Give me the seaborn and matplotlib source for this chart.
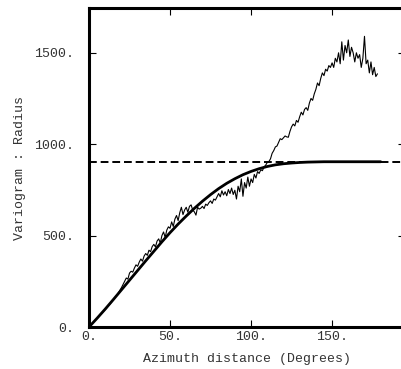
#!/usr/bin/env python3
import numpy as np
import pandas as pd
import matplotlib
matplotlib.use("Agg")
import matplotlib.pyplot as plt
import seaborn as sns

# experimental variogram, one value per degree (0..178)
exp_values = [
    0, 8, 18, 28, 38, 47, 56, 66, 76, 86,
    95, 105, 116, 126, 137, 148, 160, 172, 185, 200,
    215, 232, 250, 268, 262, 295, 305, 300, 322, 340,
    332, 355, 372, 360, 388, 402, 392, 420, 412, 440,
    452, 438, 470, 482, 460, 500, 520, 490, 530, 548,
    540, 575, 550, 590, 610, 582, 625, 655, 615, 640,
    655, 628, 660, 668, 640, 630, 612, 655, 645, 650,
    660, 648, 672, 665, 680, 690, 676, 700, 694, 712,
    730, 712, 745, 722, 740, 718, 752, 730, 760, 725,
    748, 700, 770, 740, 810, 715, 790, 760, 820, 770,
    810, 790, 835, 815, 850, 840, 860, 855, 875, 885,
    900, 905, 920, 950, 965, 985, 990, 1010, 1030, 1025,
    1035, 1045, 1040, 1038, 1070, 1095, 1110, 1100, 1130, 1120,
    1150, 1175, 1160, 1190, 1200, 1185, 1225, 1250, 1240, 1275,
    1300, 1335, 1320, 1360, 1390, 1375, 1410, 1400, 1430, 1420,
    1445, 1420, 1470, 1450, 1500, 1440, 1560, 1460, 1540, 1500,
    1570, 1480, 1530, 1500, 1450, 1500, 1470, 1490, 1420, 1470,
    1590, 1440, 1460, 1390, 1450, 1380, 1420, 1370, 1385,
]
exp_lags = list(range(len(exp_values)))

# fitted model, read every 5 degrees
model_lags = list(range(0, 185, 5))
model_values = [0, 48, 98, 150, 203, 256, 309, 362, 414, 466,
                516, 563, 607, 649, 688, 724, 757, 786, 811, 833,
                851, 866, 878, 887, 893, 897, 900, 902, 903, 904,
                904, 904, 904, 904, 904, 904, 904]

sill = 905

x_ticks = [0, 50, 100, 150]
x_ticklabels = ["0.", "50.", "100.", "150."]
y_ticks = [0, 500, 1000, 1500]
y_ticklabels = ["0.", "500.", "1000.", "1500."]

sns.set_style("ticks")
plt.rcParams["font.family"] = ["Liberation Mono", "DejaVu Sans Mono"]

fig = plt.figure(figsize=(4.02, 3.69), dpi=100)
ax = fig.add_axes([89 / 402, 1 - 327 / 369, 316 / 402, 319 / 369])

exp_df = pd.DataFrame({"lag": exp_lags, "gamma": exp_values})
model_df = pd.DataFrame({"lag": model_lags, "gamma": model_values})

sns.lineplot(data=exp_df, x="lag", y="gamma", ax=ax, color="black", lw=0.8)
sns.lineplot(data=model_df, x="lag", y="gamma", ax=ax, color="black", lw=2.0)
ax.axhline(sill, color="black", lw=1.4, linestyle=(0, (4, 2)))

ax.set_xlim(0, 195)
ax.set_ylim(0, 1745)

ax.set_xticks(x_ticks)
ax.set_xticklabels(x_ticklabels)
ax.set_yticks(y_ticks)
ax.set_yticklabels(y_ticklabels)

ax.tick_params(axis="both", direction="in", length=5, width=0.8,
               labelsize=9.5, colors="black", labelcolor="#333333",
               top=True, right=True)
ax.tick_params(axis="x", pad=3)
ax.tick_params(axis="y", pad=10.5)

for s in ax.spines.values():
    s.set_linewidth(2.2)
    s.set_color("black")

ax.set_xlabel("Azimuth distance (Degrees)", fontsize=9.5, color="#333333", labelpad=7)
ax.set_ylabel("Variogram : Radius", fontsize=9.5, color="#333333", labelpad=6)

fig.savefig("out.png", dpi=100)
